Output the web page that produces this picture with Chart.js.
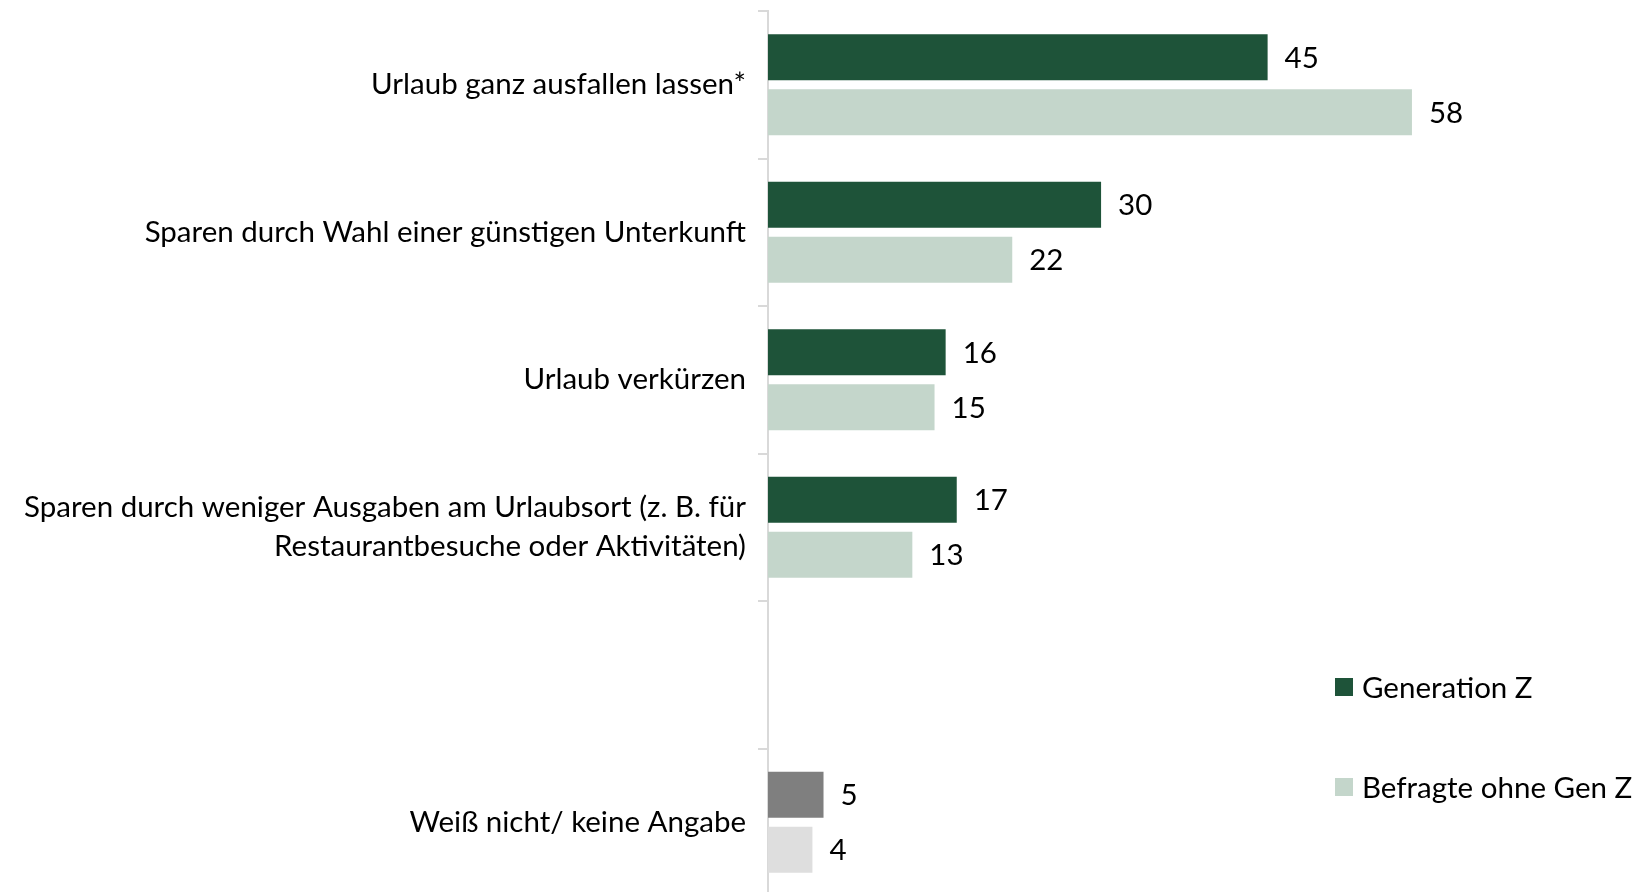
<!DOCTYPE html>
<html>
<head>
<meta charset="utf-8">
<script src="https://cdn.jsdelivr.net/npm/chart.js@4"></script>
<style>
    html, body { margin: 0; padding: 0; background: #fff; overflow: hidden; }
    #wrap { position: relative; width: 1634px; height: 896px; }
    .leg { position: absolute; left: 1335px; font: 29.5px Lato, sans-serif; color: #000; white-space: nowrap; }
    .leg span.box { position: absolute; left: 0; top: 0; width: 18px; height: 18px; }
    .leg span.txt { position: absolute; left: 27px; top: -10px; line-height: 38px; }
</style>
</head>
<body>
<div id="wrap">
    <canvas id="chartUrlaub"></canvas>
    <div class="leg" style="top:678px"><span class="box" style="background:#1E5339"></span><span class="txt">Generation Z</span></div>
    <div class="leg" style="top:778px"><span class="box" style="background:#C4D6CB"></span><span class="txt">Befragte ohne Gen Z</span></div>
</div>
<script>
// Daten aus der Grafik
const categories = [
    'Urlaub ganz ausfallen lassen*',
    'Sparen durch Wahl einer günstigen Unterkunft',
    'Urlaub verkürzen',
    ['Sparen durch weniger Ausgaben am Urlaubsort (z. B. für', 'Restaurantbesuche oder Aktivitäten)'],
    '',
    'Weiß nicht/ keine Angabe'
];
const genZ = [45, 30, 16, 17, null, 5];
const ohneGenZ = [58, 22, 15, 13, null, 4];

const seriesLabels = ['Generation Z', 'Befragte ohne Gen Z'];

const DARK = '#1E5339';
const LIGHT = '#C4D6CB';
const colorsGenZ = categories.map((c, i) => i === categories.length - 1 ? '#7F7F7F' : DARK);
const colorsOhne = categories.map((c, i) => i === categories.length - 1 ? '#DEDEDE' : LIGHT);

const FONT = 'Lato, sans-serif';
const FONT_SIZE = 29.5;

// Werte rechts neben den Balken
const valueLabels = {
    id: 'valueLabels',
    afterDatasetsDraw(chart) {
        const ctx = chart.ctx;
        ctx.save();
        ctx.font = FONT_SIZE + 'px ' + FONT;
        ctx.fillStyle = '#000';
        ctx.textAlign = 'left';
        ctx.textBaseline = 'middle';
        chart.data.datasets.forEach((ds, di) => {
            const meta = chart.getDatasetMeta(di);
            meta.data.forEach((bar, i) => {
                const v = ds.data[i];
                if (v === null || v === undefined) return;
                ctx.fillText(String(v), bar.x + 17, bar.y + 1);
            });
        });
        ctx.restore();
    }
};

document.addEventListener('DOMContentLoaded', () => {
    const ctx = document.getElementById('chartUrlaub');

    new Chart(ctx, {
        type: 'bar',
        data: {
            labels: categories,
            datasets: [
                {
                    label: seriesLabels[0],
                    data: genZ,
                    backgroundColor: colorsGenZ,
                    categoryPercentage: 0.745,
                    barPercentage: 0.836
                },
                {
                    label: seriesLabels[1],
                    data: ohneGenZ,
                    backgroundColor: colorsOhne,
                    categoryPercentage: 0.745,
                    barPercentage: 0.836
                }
            ]
        },
        options: {
            indexAxis: 'y',
            responsive: true,
            maintainAspectRatio: false,
            animation: false,
            layout: { padding: { top: 11, left: 0, right: 0, bottom: 0 } },
            plugins: {
                legend: { display: false },
                tooltip: { enabled: false }
            },
            scales: {
                x: {
                    display: false,
                    min: 0,
                    max: 78
                },
                y: {
                    afterFit: (s) => {
                        s.width = 768;
                        s.paddingTop = 0;
                        s.paddingBottom = 0;
                    },
                    border: { display: true, color: '#D9D9D9', width: 2 },
                    grid: {
                        display: true,
                        offset: true,
                        drawOnChartArea: false,
                        drawTicks: true,
                        tickLength: 10,
                        color: '#D9D9D9',
                        lineWidth: 2
                    },
                    ticks: {
                        color: '#000',
                        padding: 12,
                        font: { family: FONT, size: FONT_SIZE, lineHeight: 1.32 }
                    }
                }
            }
        },
        plugins: [valueLabels]
    });
});
</script>
</body>
</html>
